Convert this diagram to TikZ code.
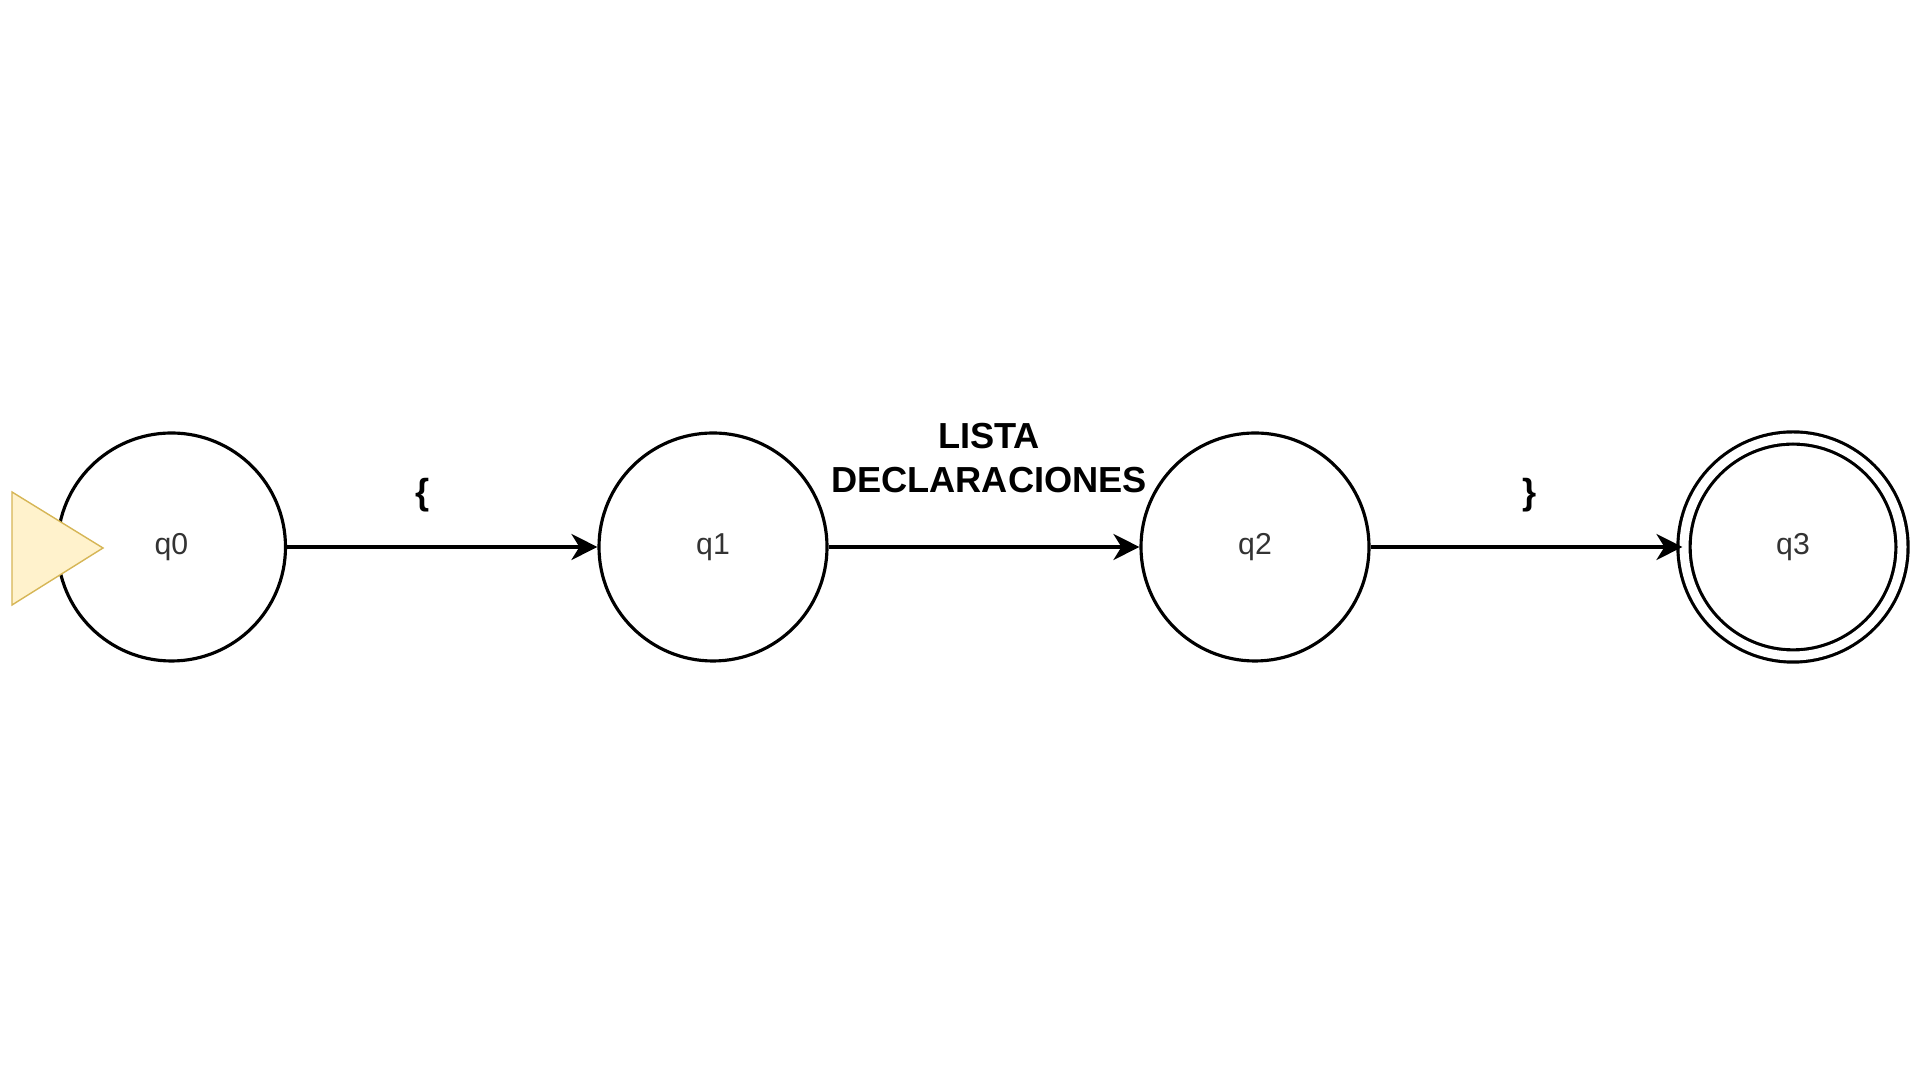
\documentclass[tikz,border=0pt]{standalone}
\usepackage{fontspec}
\setmainfont{Liberation Sans}
\usetikzlibrary{arrows.meta}
\tikzset{st/.style={draw,circle,line width=0.9pt,minimum size=22.8mm,inner sep=0pt,fill=white,font=\fontsize{8.6}{10}\selectfont,text=black!80}}
\tikzset{acc/.style={st,double,double distance=0.9mm,minimum size=21.8mm}}
\tikzset{l/.style={font=\fontsize{10.3}{12.5}\selectfont\bfseries,align=center}}
\definecolor{startfill}{HTML}{FFF2CC}
\definecolor{startline}{HTML}{D6B656}

\begin{document}
\begin{tikzpicture}[>={Stealth[length=2.6mm,width=2.6mm,inset=0.8mm]},line width=0.9pt]
        \useasboundingbox (0,0) rectangle (19.2,10.8);
        \node[st] (q0) at (1.715,5.33) {q0};
        \node[st] (q1) at (7.13,5.33) {q1}
          edge [<-] node [l, pos=.564, yshift=5.2mm] {\{} (q0);
        \node[st] (q2) at (12.55,5.33) {q2}
          edge [<-] node [l, pos=.484, yshift=8.9mm] {LISTA\\DECLARACIONES} (q1);
        \node[acc] (q3) at (17.93,5.33) {q3}
          edge [<-] node [l, pos=.49, yshift=5.2mm] {\}} (q2);
        % start marker
        \filldraw[draw=startline,fill=startfill,line width=0.4pt](0.12,5.88)--(1.03,5.32)--(0.12,4.75)--cycle;
      \end{tikzpicture}
\end{document}
